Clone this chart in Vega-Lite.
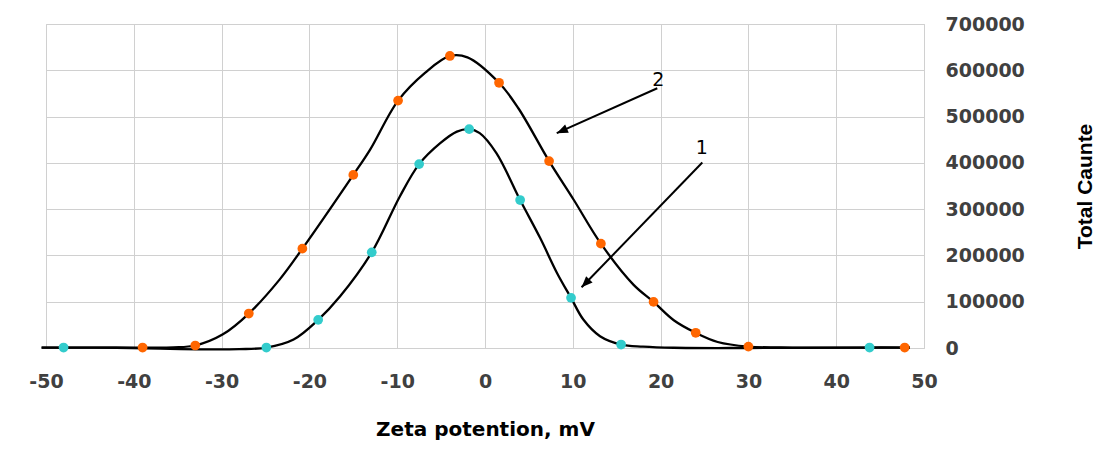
{
  "$schema": "https://vega.github.io/schema/vega-lite/v6.json",
  "width": 878,
  "height": 324,
  "autosize": {"type": "none"},
  "padding": {"left": 46, "top": 24, "right": 182, "bottom": 120},
  "background": "white",
  "config": {"view": {"stroke": "#D0D0D0", "strokeWidth": 1}},
  "datasets": {
    "curves": [
      {"series": "2", "x": -50.5, "y": 1000, "marker": 0},
      {"series": "2", "x": -45, "y": 1000, "marker": 0},
      {"series": "2", "x": -39.0, "y": 1000, "marker": 1},
      {"series": "2", "x": -35.5, "y": 1500, "marker": 0},
      {"series": "2", "x": -33.0, "y": 5400, "marker": 1},
      {"series": "2", "x": -29.9, "y": 29000, "marker": 0},
      {"series": "2", "x": -26.9, "y": 74400, "marker": 1},
      {"series": "2", "x": -23.4, "y": 147700, "marker": 0},
      {"series": "2", "x": -20.8, "y": 214600, "marker": 1},
      {"series": "2", "x": -15.0, "y": 374000, "marker": 1},
      {"series": "2", "x": -13.1, "y": 428000, "marker": 0},
      {"series": "2", "x": -9.9, "y": 534500, "marker": 1},
      {"series": "2", "x": -6.8, "y": 595000, "marker": 0},
      {"series": "2", "x": -4.0, "y": 631000, "marker": 1},
      {"series": "2", "x": -2.0, "y": 628000, "marker": 0},
      {"series": "2", "x": 1.6, "y": 573000, "marker": 1},
      {"series": "2", "x": 3.8, "y": 518000, "marker": 0},
      {"series": "2", "x": 7.3, "y": 403800, "marker": 1},
      {"series": "2", "x": 10.1, "y": 320300, "marker": 0},
      {"series": "2", "x": 13.2, "y": 225400, "marker": 1},
      {"series": "2", "x": 16.9, "y": 137000, "marker": 0},
      {"series": "2", "x": 19.2, "y": 99600, "marker": 1},
      {"series": "2", "x": 21.5, "y": 60000, "marker": 0},
      {"series": "2", "x": 24.0, "y": 32800, "marker": 1},
      {"series": "2", "x": 26.5, "y": 13000, "marker": 0},
      {"series": "2", "x": 30.0, "y": 3000, "marker": 1},
      {"series": "2", "x": 35, "y": 1000, "marker": 0},
      {"series": "2", "x": 40, "y": 1000, "marker": 0},
      {"series": "2", "x": 47.8, "y": 1000, "marker": 1},
      {"series": "2", "x": 48.4, "y": 1000, "marker": 0},
      {"series": "1", "x": -50.5, "y": 1000, "marker": 0},
      {"series": "1", "x": -48.0, "y": 1000, "marker": 1},
      {"series": "1", "x": -42, "y": 500, "marker": 0},
      {"series": "1", "x": -37, "y": -1500, "marker": 0},
      {"series": "1", "x": -32, "y": -3000, "marker": 0},
      {"series": "1", "x": -28, "y": -2500, "marker": 0},
      {"series": "1", "x": -24.9, "y": 1000, "marker": 1},
      {"series": "1", "x": -21.8, "y": 18300, "marker": 0},
      {"series": "1", "x": -19.0, "y": 60800, "marker": 1},
      {"series": "1", "x": -16.5, "y": 111700, "marker": 0},
      {"series": "1", "x": -12.9, "y": 206600, "marker": 1},
      {"series": "1", "x": -9.7, "y": 327400, "marker": 0},
      {"series": "1", "x": -7.5, "y": 397300, "marker": 1},
      {"series": "1", "x": -5.1, "y": 442600, "marker": 0},
      {"series": "1", "x": -3.2, "y": 467600, "marker": 0},
      {"series": "1", "x": -1.8, "y": 472800, "marker": 1},
      {"series": "1", "x": -0.6, "y": 464200, "marker": 0},
      {"series": "1", "x": 1.3, "y": 421000, "marker": 0},
      {"series": "1", "x": 4.0, "y": 319700, "marker": 1},
      {"series": "1", "x": 6.3, "y": 237000, "marker": 0},
      {"series": "1", "x": 8.2, "y": 162200, "marker": 0},
      {"series": "1", "x": 9.8, "y": 108300, "marker": 1},
      {"series": "1", "x": 11.2, "y": 61500, "marker": 0},
      {"series": "1", "x": 13.1, "y": 25500, "marker": 0},
      {"series": "1", "x": 15.5, "y": 7500, "marker": 1},
      {"series": "1", "x": 18, "y": 3000, "marker": 0},
      {"series": "1", "x": 21.5, "y": 500, "marker": 0},
      {"series": "1", "x": 30, "y": 0, "marker": 0},
      {"series": "1", "x": 43.8, "y": 1000, "marker": 1},
      {"series": "1", "x": 48.4, "y": 1000, "marker": 0}
    ],
    "arrows": [
      {"id": "1", "xs": 24.75, "ys": 400800, "xe": 11.0, "ye": 131100},
      {"id": "2", "xs": 19.62, "ys": 561200, "xe": 8.17, "ye": 464200}
    ],
    "labels": [
      {"label": "1", "x": 24.68, "y": 431800},
      {"label": "2", "x": 19.74, "y": 579100}
    ]
  },
  "layer": [
    {
      "data": {"name": "curves"},
      "mark": {"type": "line", "color": "black", "strokeWidth": 2.3, "interpolate": "catmull-rom"},
      "encoding": {
        "x": {
          "field": "x", "type": "quantitative",
          "scale": {"domain": [-50, 50], "nice": false, "zero": false},
          "axis": {
            "values": [-50, -40, -30, -20, -10, 0, 10, 20, 30, 40, 50],
            "labelExpr": "'' + datum.value",
            "grid": true, "gridColor": "#D0D0D0", "domain": false, "ticks": false,
            "labelFont": "DejaVu Sans", "labelFontWeight": "bold", "labelFontSize": 19,
            "labelColor": "#404040", "labelPadding": 24, "labelFlush": false, "labelOverlap": false,
            "title": "Zeta potention, mV", "titleFont": "DejaVu Sans", "titleFontSize": 20,
            "titleFontWeight": "bold", "titleColor": "black", "titlePadding": 28
          }
        },
        "y": {
          "field": "y", "type": "quantitative",
          "scale": {"domain": [0, 700000], "nice": false},
          "axis": {
            "orient": "right",
            "values": [0, 100000, 200000, 300000, 400000, 500000, 600000, 700000],
            "format": "d",
            "grid": true, "gridColor": "#D0D0D0", "domain": false, "ticks": false,
            "labelFont": "DejaVu Sans", "labelFontWeight": "bold", "labelFontSize": 19,
            "labelColor": "#404040", "labelPadding": 21, "labelAlign": "left", "labelFlush": false,
            "labelOverlap": false,
            "title": "Total Caunte", "titleFont": "Liberation Sans", "titleFontSize": 21,
            "titleFontWeight": "bold", "titleColor": "black", "titleAngle": 270,
            "titleX": 161, "titleY": 162, "titleAlign": "center", "titleBaseline": "middle"
          }
        },
        "detail": {"field": "series"}
      }
    },
    {
      "data": {"name": "curves"},
      "transform": [{"filter": "datum.marker == 1"}],
      "mark": {"type": "circle", "size": 95, "opacity": 1},
      "encoding": {
        "x": {"field": "x", "type": "quantitative"},
        "y": {"field": "y", "type": "quantitative"},
        "color": {
          "field": "series", "type": "nominal",
          "scale": {"domain": ["1", "2"], "range": ["#33CCCC", "#FF6600"]},
          "legend": null
        }
      }
    },
    {
      "data": {"name": "arrows"},
      "mark": {"type": "rule", "color": "black", "strokeWidth": 2},
      "encoding": {
        "x": {"field": "xs", "type": "quantitative"},
        "y": {"field": "ys", "type": "quantitative"},
        "x2": {"field": "xe"},
        "y2": {"field": "ye"}
      }
    },
    {
      "data": {"name": "arrows"},
      "transform": [{"filter": "datum.id == '1'"}],
      "mark": {"type": "point", "shape": "M0,0L-0.4,1L0.4,1Z", "filled": true, "color": "black", "opacity": 1, "size": 500, "angle": 224},
      "encoding": {
        "x": {"field": "xe", "type": "quantitative"},
        "y": {"field": "ye", "type": "quantitative"}
      }
    },
    {
      "data": {"name": "arrows"},
      "transform": [{"filter": "datum.id == '2'"}],
      "mark": {"type": "point", "shape": "M0,0L-0.4,1L0.4,1Z", "filled": true, "color": "black", "opacity": 1, "size": 500, "angle": 246},
      "encoding": {
        "x": {"field": "xe", "type": "quantitative"},
        "y": {"field": "ye", "type": "quantitative"}
      }
    },
    {
      "data": {"name": "labels"},
      "mark": {"type": "text", "font": "DejaVu Sans", "fontSize": 19, "color": "black", "align": "center", "baseline": "middle"},
      "encoding": {
        "x": {"field": "x", "type": "quantitative"},
        "y": {"field": "y", "type": "quantitative"},
        "text": {"field": "label"}
      }
    }
  ]
}
